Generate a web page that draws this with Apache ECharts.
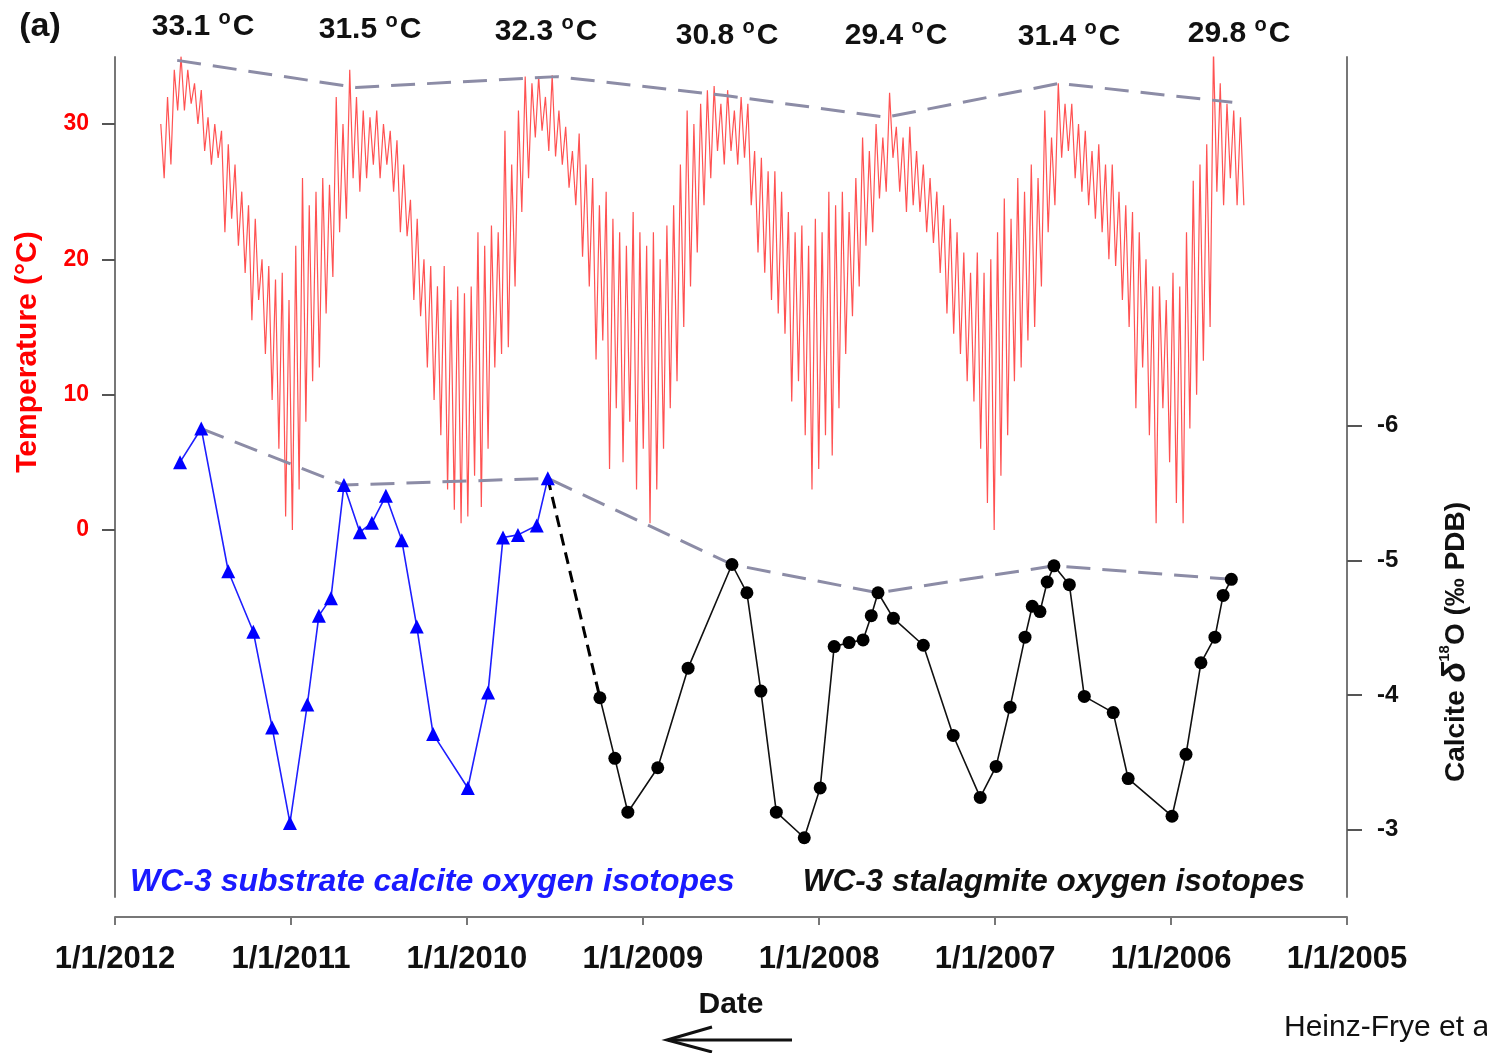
<!DOCTYPE html>
<html lang="en">

<head>
    <meta charset="UTF-8" />
    <title>WC-3 temperature and oxygen isotopes</title>
    <script src="https://cdn.jsdelivr.net/npm/echarts@6/dist/echarts.min.js"></script>
    <style>
        html, body { margin: 0; padding: 0; background: #fff; }
        #chart { width: 1487px; height: 1053px; }
    </style>
</head>

<body>
    <div id="chart"></div>

    <script type="text/javascript">
        // cave air temperature, read every 14 days going back from 28 Sep 2011
        // (high of the period, then low a week earlier)
        const tempStart = "2011-09-28";
        const tempHi = [
            30, 32, 34, 35, 34, 33, 32.5, 30.5, 30, 29.5,
            28.5, 27, 25, 24, 23, 20, 19.5, 18.5, 19, 17,
            21, 26, 24, 25, 26, 25.5, 32, 30, 34, 32,
            31, 30.5, 31, 30, 29.5, 28.8, 27, 24.4, 23, 20,
            19.5, 18, 19.5, 17, 18, 17.5, 18, 22, 21, 22.5,
            22, 29.5, 27, 31, 33.5, 33, 33.5, 32, 33.6, 31,
            29.8, 28, 29.3, 27, 26, 24, 25, 23, 22, 21,
            23.5, 22, 21, 22, 20, 22.5, 24, 27, 31, 30,
            31.5, 32.5, 32.8, 31.5, 32.5, 31, 32, 31.5, 28, 27.5,
            26.5, 26.5, 25, 23.5, 22, 22.5, 21, 23, 22, 25,
            24, 25, 23.5, 26, 29, 28, 30, 29, 32.3, 29.8,
            29, 29.8, 28, 27, 26, 25, 24, 23, 22, 20.5,
            19, 20.5, 19, 20, 22, 24.5, 23, 26, 25, 27,
            26, 31, 29, 33, 31.5, 31.5, 30, 29.5, 28, 28.5,
            27, 27, 25, 24, 23.5, 22, 20, 18, 18, 17,
            19, 18, 22, 25.8, 27, 28.5, 35.5, 33, 31.5, 31,
            30.5
        ];
        const tempLo = [
            26, 27, 31, 31, 31.5, 30, 28, 27, 27.5, 22,
            23, 21, 19, 15.5, 17, 13, 9.6, 6, 1, 0,
            3, 8, 11, 12, 16, 18.7, 22, 23, 26, 25,
            26, 27, 26, 27, 25, 22, 21.7, 17, 15.8, 12,
            9.6, 7, 3, 1.5, 0.5, 1, 4, 1.7, 6, 12,
            13, 13.5, 18, 23.5, 26, 29, 29.5, 28, 27.6, 27,
            25.3, 24, 20.2, 18, 12.6, 14, 4.5, 9, 5, 8,
            3, 6, 0.5, 3, 6, 9, 11, 15, 18, 20.5,
            24, 26, 28, 27, 28, 27, 27.5, 24, 20.5, 19,
            17, 16, 14.5, 9.5, 11, 7, 3, 4.5, 7, 5.5,
            9, 13, 15.8, 18, 21, 22, 24.5, 25, 27.5, 25,
            23.5, 24, 23.5, 22, 21.2, 19, 16, 14.5, 13, 11,
            9.5, 6, 2, 0, 4, 7, 11, 12, 14, 15,
            18, 22, 24, 27.5, 28, 26, 25, 24, 23, 22,
            20, 19.5, 17, 15, 9, 12, 7, 0.5, 9, 5,
            2, 0.5, 7.5, 10, 12.5, 15, 25, 24, 26, 24,
            24
        ];

        // summer maxima (dashed envelope) and their labels
        const peakDates = ["2011-08-25", "2010-08-19", "2009-06-28", "2008-07-14", "2007-08-15", "2006-08-21", "2005-08-27"];
        const peakTemps = [34.7, 32.7, 33.5, 32.1, 30.5, 33.0, 31.6];
        const peakLabels = ["33.1", "31.5", "32.3", "30.8", "29.4", "31.4", "29.8"];

        // WC-3 substrate calcite d18O
        const substrateDates = ["2011-08-19", "2011-07-06", "2011-05-11", "2011-03-20", "2011-02-09", "2011-01-03",
            "2010-11-28", "2010-11-04", "2010-10-10", "2010-09-13", "2010-08-11", "2010-07-17", "2010-06-18",
            "2010-05-16", "2010-04-15", "2010-03-12", "2009-12-30", "2009-11-18", "2009-10-18", "2009-09-17",
            "2009-08-09", "2009-07-17"];
        const substrateD18O = [-5.73, -5.98, -4.92, -4.47, -3.76, -3.05, -3.93, -4.59, -4.72, -5.56, -5.21,
            -5.28, -5.48, -5.15, -4.51, -3.71, -3.31, -4.02, -5.17, -5.19, -5.26, -5.61];

        // WC-3 stalagmite d18O
        const stalagmiteDates = ["2009-03-31", "2009-02-28", "2009-02-01", "2008-12-01", "2008-09-29", "2008-06-30",
            "2008-05-30", "2008-05-01", "2008-03-30", "2008-02-01", "2007-12-30", "2007-12-01", "2007-10-31",
            "2007-10-02", "2007-09-15", "2007-09-01", "2007-07-31", "2007-05-30", "2007-03-29", "2007-02-01",
            "2006-12-30", "2006-12-01", "2006-10-31", "2006-10-16", "2006-09-30", "2006-09-15", "2006-09-01",
            "2006-07-31", "2006-06-30", "2006-05-01", "2006-03-31", "2005-12-30", "2005-12-01", "2005-10-31",
            "2005-10-02", "2005-09-15", "2005-08-29"];
        const stalagmiteD18O = [-3.98, -3.53, -3.13, -3.46, -4.20, -4.97, -4.76, -4.03, -3.13, -2.94, -3.31,
            -4.36, -4.39, -4.41, -4.59, -4.76, -4.57, -4.37, -3.70, -3.24, -3.47, -3.91, -4.43, -4.66, -4.62,
            -4.84, -4.96, -4.82, -3.99, -3.87, -3.38, -3.10, -3.56, -4.24, -4.43, -4.74, -4.86];

        // most negative d18O per season (dashed envelope)
        const isoPeakDates = ["2011-07-06", "2010-09-13", "2009-07-17", "2008-06-30", "2007-09-01", "2006-09-01", "2005-08-29"];
        const isoPeakValues = [-5.98, -5.56, -5.61, -4.97, -4.76, -4.96, -4.86];

        const yearTicks = [2012, 2011, 2010, 2009, 2008, 2007, 2006, 2005];
        const tempTicks = [0, 10, 20, 30];
        const isoTicks = [-6, -5, -4, -3];

        // ---------------------------------------------
        const FONT = "Liberation Sans, Arial, Helvetica, sans-serif";
        const DAY = 86400000;

        function ts(s) {
            let p = s.split("-").map(Number);
            return new Date(p[0], p[1] - 1, p[2]).getTime();
        }

        let t0 = ts(tempStart);
        let tempData = [];
        tempHi.forEach((h, i) => {
            let t = t0 - i * 14 * DAY;
            tempData.push([t, h]);
            tempData.push([t - 7 * DAY, tempLo[i]]);
        });

        const zip = (a, b) => a.map((d, i) => [ts(d), b[i]]);
        let lastSub = substrateDates.length - 1;
        let connector = [
            [ts(substrateDates[lastSub]), substrateD18O[lastSub]],
            [ts(stalagmiteDates[0]), stalagmiteD18O[0]],
        ];
        let yearValues = yearTicks.map(y => new Date(y, 0, 1).getTime());

        let myChart = echarts.init(document.getElementById("chart"), null, { renderer: "canvas" });

        let option = {
            animation: false,
            backgroundColor: "#fff",
            grid: { left: 115, right: 140, top: 57, bottom: 156 },
            xAxis: {
                type: "value",
                inverse: true,
                min: new Date(2005, 0, 1).getTime(),
                max: new Date(2012, 0, 1).getTime(),
                offset: 20,
                splitLine: { show: false },
                axisLine: { onZero: false, lineStyle: { color: "#777", width: 2 } },
                axisTick: {
                    length: 8,
                    lineStyle: { color: "#777", width: 2 },
                    customValues: yearValues,
                },
                axisLabel: {
                    customValues: yearValues,
                    formatter: v => "1/1/" + new Date(v).getFullYear(),
                    color: "#111",
                    fontFamily: FONT,
                    fontWeight: "bold",
                    fontSize: 31,
                    margin: 27,
                    hideOverlap: false,
                },
            },
            yAxis: [
                {
                    type: "value",
                    position: "left",
                    min: -27.12,
                    max: 34.95,
                    splitLine: { show: false },
                    axisLine: { show: true, onZero: false, lineStyle: { color: "#777", width: 2 } },
                    axisTick: { show: true, length: 13, customValues: tempTicks, lineStyle: { color: "#555", width: 2 } },
                    axisLabel: {
                        customValues: tempTicks,
                        color: "#ff0000",
                        fontFamily: FONT,
                        fontWeight: "bold",
                        fontSize: 23,
                        margin: 26,
                    },
                },
                {
                    type: "value",
                    position: "right",
                    inverse: true,
                    min: -8.74,
                    max: -2.5,
                    splitLine: { show: false },
                    axisLine: { show: true, onZero: false, lineStyle: { color: "#777", width: 2 } },
                    axisTick: { show: true, length: 15, customValues: isoTicks, lineStyle: { color: "#555", width: 2 } },
                    axisLabel: {
                        customValues: isoTicks,
                        color: "#111",
                        fontFamily: FONT,
                        fontWeight: "bold",
                        fontSize: 24,
                        margin: 30,
                    },
                },
            ],
            series: [
                {
                    name: "temperature",
                    type: "line",
                    yAxisIndex: 0,
                    data: tempData,
                    showSymbol: false,
                    lineStyle: { color: "rgba(255,0,0,0.68)", width: 1.2 },
                    z: 1,
                },
                {
                    name: "temp maxima",
                    type: "line",
                    yAxisIndex: 0,
                    data: zip(peakDates, peakTemps),
                    showSymbol: false,
                    lineStyle: { color: "#8c8ca6", width: 3, type: [24, 12] },
                    z: 3,
                },
                {
                    name: "substrate",
                    type: "line",
                    yAxisIndex: 1,
                    data: zip(substrateDates, substrateD18O),
                    symbol: "triangle",
                    symbolSize: 14,
                    lineStyle: { color: "#1f1fff", width: 1.6 },
                    itemStyle: { color: "#0000ff" },
                    z: 4,
                },
                {
                    name: "connector",
                    type: "line",
                    yAxisIndex: 1,
                    data: connector,
                    showSymbol: false,
                    lineStyle: { color: "#000", width: 3, type: [12, 7] },
                    z: 4,
                },
                {
                    name: "stalagmite",
                    type: "line",
                    yAxisIndex: 1,
                    data: zip(stalagmiteDates, stalagmiteD18O),
                    symbol: "circle",
                    symbolSize: 13,
                    lineStyle: { color: "#111", width: 1.6 },
                    itemStyle: { color: "#000" },
                    z: 5,
                },
                {
                    name: "isotope maxima",
                    type: "line",
                    yAxisIndex: 1,
                    data: zip(isoPeakDates, isoPeakValues),
                    showSymbol: false,
                    lineStyle: { color: "#8c8ca6", width: 3, type: [24, 12] },
                    z: 3,
                },
            ],
        };

        myChart.setOption(option);

        // text annotations
        let labelPos = [[203, 27], [370, 30], [546, 32], [727, 36], [896, 36], [1069, 37], [1239, 34]];
        let graphics = peakLabels.map((t, i) => ({
            type: "text",
            x: labelPos[i][0],
            y: labelPos[i][1],
            style: {
                text: t + " {o|o}C",
                fill: "#111",
                fontFamily: FONT,
                fontWeight: "bold",
                fontSize: 30,
                align: "center",
                verticalAlign: "middle",
                rich: { o: { fontSize: 20, fontWeight: "bold", fontFamily: FONT, fill: "#111", padding: [0, 2, 18, 0] } },
            },
        }));

        graphics.push(
            {
                type: "text", x: 40, y: 27,
                style: { text: "(a)", fill: "#111", fontFamily: FONT, fontWeight: "bold", fontSize: 34, align: "center", verticalAlign: "middle" },
            },
            {
                type: "text", x: 28, y: 352, rotation: Math.PI / 2,
                style: { text: "Temperature (°C)", fill: "#ff0000", fontFamily: FONT, fontWeight: "bold", fontSize: 30, align: "center", verticalAlign: "middle" },
            },
            {
                type: "text", x: 1456, y: 642, rotation: Math.PI / 2,
                style: {
                    text: "Calcite {d|δ}{s|18}O (‰ PDB)",
                    fill: "#111", fontFamily: FONT, fontWeight: "bold", fontSize: 28,
                    align: "center", verticalAlign: "middle",
                    rich: {
                        d: { fontSize: 34, fontStyle: "italic", fontWeight: "bold", fontFamily: FONT, fill: "#111" },
                        s: { fontSize: 15, fontWeight: "bold", fontFamily: FONT, fill: "#111", padding: [0, 0, 22, 0] },
                    },
                },
            },
            {
                type: "text", x: 130, y: 882,
                style: { text: "WC-3 substrate calcite oxygen isotopes", fill: "#1a1aff", fontFamily: FONT, fontWeight: "bold", fontStyle: "italic", fontSize: 32, align: "left", verticalAlign: "middle" },
            },
            {
                type: "text", x: 1305, y: 882,
                style: { text: "WC-3 stalagmite oxygen isotopes", fill: "#111", fontFamily: FONT, fontWeight: "bold", fontStyle: "italic", fontSize: 31.5, align: "right", verticalAlign: "middle" },
            },
            {
                type: "text", x: 731, y: 1005,
                style: { text: "Date", fill: "#111", fontFamily: FONT, fontWeight: "bold", fontSize: 30, align: "center", verticalAlign: "middle" },
            },
            {
                type: "line",
                shape: { x1: 668, y1: 1040, x2: 792, y2: 1040 },
                style: { stroke: "#111", lineWidth: 3 },
            },
            {
                type: "polyline",
                shape: { points: [[712, 1027], [667, 1040], [712, 1052]] },
                style: { stroke: "#111", lineWidth: 3, fill: null },
            },
            {
                type: "text", x: 1284, y: 1028,
                style: { text: "Heinz-Frye et al.", fill: "#111", fontFamily: FONT, fontSize: 30, align: "left", verticalAlign: "middle" },
            }
        );

        myChart.setOption({ graphic: graphics });
    </script>
</body>

</html>
